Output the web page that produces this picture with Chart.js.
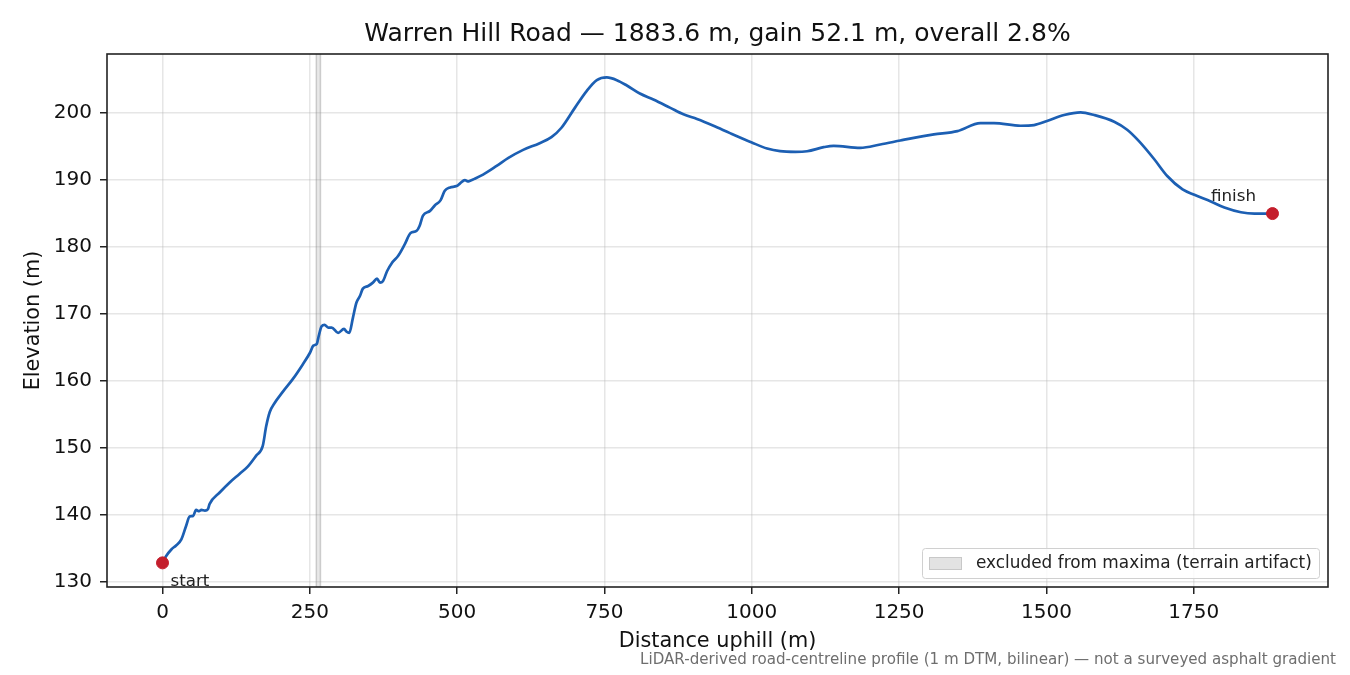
<!DOCTYPE html>
<html>
<head>
<meta charset="utf-8">
<script src="https://cdn.jsdelivr.net/npm/chart.js@4.4.1/dist/chart.umd.min.js"></script>
<style>
  html, body { margin: 0; padding: 0; background: #fff; }
  #wrap { width: 1350px; height: 675px; }
</style>
</head>
<body>
<div id="wrap"><canvas id="profile" width="1350" height="675"></canvas></div>
<script>
// distance along road (m) and elevation (m)
const distance = [
    0, 6, 15, 23, 32, 40, 46, 52, 57, 62, 66, 72, 77, 80, 97, 114, 131, 145, 159, 170,
    176, 182, 190, 204, 221, 238, 250, 256, 262, 265, 270, 275, 281, 287, 298, 308, 312, 317, 323, 329,
    335, 340, 349, 357, 364, 369, 374, 381, 389, 400, 411, 421, 431, 436, 442, 454, 462, 472, 479, 488,
    499, 505, 513, 518, 522, 530, 544, 567, 587, 612, 640, 660, 677, 700, 720, 737, 754, 771, 788, 810,
    833, 861, 884, 907, 935, 963, 1000, 1026, 1048, 1074, 1094, 1122, 1139, 1184, 1218, 1252, 1275, 1309, 1349, 1388,
    1411, 1456, 1479, 1501, 1530, 1558, 1581, 1615, 1637, 1657, 1683, 1705, 1731, 1751, 1779, 1802, 1830, 1853, 1883.6
];
const elevation = [
    132.8, 133.8, 134.8, 135.4, 136.3, 138.3, 139.7, 139.8, 140.7, 140.5, 140.7, 140.6, 140.8, 141.6, 143.3, 144.8, 146.1, 147.2, 148.8, 150.2,
    153.2, 155.3, 156.6, 158.3, 160.2, 162.4, 164.1, 165.2, 165.5, 166.6, 168.1, 168.3, 167.9, 167.9, 167.1, 167.7, 167.3, 167.1, 169.3, 171.6,
    172.6, 173.7, 174.1, 174.6, 175.2, 174.6, 174.8, 176.3, 177.5, 178.6, 180.3, 182.0, 182.3, 183.0, 184.6, 185.3, 186.1, 186.9, 188.3, 188.8,
    189.0, 189.4, 189.9, 189.7, 189.8, 190.1, 190.7, 192.0, 193.2, 194.4, 195.4, 196.3, 197.7, 200.7, 203.2, 204.8, 205.2, 204.8, 204.0, 202.8,
    201.9, 200.7, 199.7, 199.0, 198.0, 196.9, 195.5, 194.6, 194.2, 194.1, 194.2, 194.8, 195.0, 194.7, 195.2, 195.8, 196.2, 196.7, 197.2, 198.4,
    198.4, 198.0, 198.1, 198.7, 199.6, 200.0, 199.6, 198.6, 197.4, 195.7, 193.0, 190.5, 188.5, 187.7, 186.7, 185.8, 185.1, 184.9, 184.9
];
const endpoints = [
    { x: 0, y: 132.8, label: 'start' },
    { x: 1883.6, y: 184.9, label: 'finish' }
];
const excludedSpan = [261, 268];
const xTicks = [0, 250, 500, 750, 1000, 1250, 1500, 1750];
const yTicks = [130, 140, 150, 160, 170, 180, 190, 200];
const xRange = [-94.2, 1977.8];
const yRange = [129.2, 208.7];

const titleText = 'Warren Hill Road \u2014 1883.6 m, gain 52.1 m, overall 2.8%';
const legendText = 'excluded from maxima (terrain artifact)';
const footnote = 'LiDAR-derived road-centreline profile (1 m DTM, bilinear) \u2014 not a surveyed asphalt gradient';

const FONT = "'DejaVu Sans', sans-serif";
const LINE_BLUE = '#1c5fb3';
const POINT_RED = '#c41e2c';
const GRID = 'rgba(176,176,176,0.32)';

// shaded span behind the line, frame, title, legend, labels and footnote
const decorations = {
    id: 'decorations',
    beforeDatasetsDraw(chart) {
        const { ctx, chartArea, scales } = chart;
        const x0 = scales.x.getPixelForValue(excludedSpan[0]);
        const x1 = scales.x.getPixelForValue(excludedSpan[1]);
        ctx.save();
        ctx.fillStyle = 'rgba(140,140,140,0.2)';
        ctx.fillRect(x0, chartArea.top, x1 - x0, chartArea.bottom - chartArea.top);
        ctx.strokeStyle = 'rgba(128,128,128,0.35)';
        ctx.lineWidth = 1.5;
        ctx.beginPath();
        ctx.moveTo(x0, chartArea.top); ctx.lineTo(x0, chartArea.bottom);
        ctx.moveTo(x1, chartArea.top); ctx.lineTo(x1, chartArea.bottom);
        ctx.stroke();
        ctx.restore();
    },
    afterDraw(chart) {
        const { ctx, chartArea, scales } = chart;
        ctx.save();

        // frame
        ctx.strokeStyle = '#222';
        ctx.lineWidth = 1.6;
        ctx.strokeRect(chartArea.left, chartArea.top, chartArea.right - chartArea.left, chartArea.bottom - chartArea.top);

        // title, centred over the plot area
        ctx.fillStyle = '#111';
        ctx.font = '25px ' + FONT;
        ctx.textAlign = 'center';
        ctx.textBaseline = 'middle';
        ctx.fillText(titleText, (chartArea.left + chartArea.right) / 2, 34.5);

        // start / finish labels
        ctx.fillStyle = '#222';
        ctx.font = '16.7px ' + FONT;
        const s = endpoints[0], f = endpoints[1];
        ctx.textAlign = 'left';
        ctx.fillText(s.label, scales.x.getPixelForValue(s.x) + 8, scales.y.getPixelForValue(s.y) + 19);
        ctx.textAlign = 'center';
        ctx.fillText(f.label, scales.x.getPixelForValue(f.x) - 39, scales.y.getPixelForValue(f.y) - 17);

        // legend box, lower right
        const lw = 397, lh = 30;
        const lx = chartArea.right - 9 - lw, ly = chartArea.bottom - 9 - lh;
        ctx.fillStyle = 'rgba(255,255,255,0.85)';
        ctx.strokeStyle = '#d0d0d0';
        ctx.lineWidth = 1;
        ctx.beginPath();
        ctx.roundRect(lx + 0.5, ly + 0.5, lw, lh, 3);
        ctx.fill();
        ctx.stroke();
        ctx.fillStyle = '#e3e3e3';
        ctx.strokeStyle = '#c8c8c8';
        ctx.fillRect(lx + 7, ly + 9, 32, 12);
        ctx.strokeRect(lx + 7.5, ly + 9.5, 32, 12);
        ctx.fillStyle = '#222';
        ctx.textAlign = 'left';
        ctx.font = '16.9px ' + FONT;
        ctx.fillText(legendText, lx + 54, ly + lh / 2 + 1);

        // footnote
        ctx.fillStyle = '#6e6e6e';
        ctx.font = '15.1px ' + FONT;
        ctx.textAlign = 'right';
        ctx.fillText(footnote, 1336, 660);
        ctx.restore();
    }
};

const chart = new Chart(document.getElementById('profile'), {
    type: 'scatter',
    data: {
        datasets: [
            {
                data: distance.map((d, i) => ({ x: d, y: elevation[i] })),
                showLine: true,
                borderColor: LINE_BLUE,
                borderWidth: 2.7,
                pointRadius: 0,
                cubicInterpolationMode: 'monotone',
                order: 2
            },
            {
                data: endpoints.map(p => ({ x: p.x, y: p.y })),
                backgroundColor: POINT_RED,
                borderColor: POINT_RED,
                pointRadius: 6,
                order: 1
            }
        ]
    },
    options: {
        responsive: false,
        devicePixelRatio: 1,
        animation: false,
        layout: { padding: { left: 0, right: 22, top: 54, bottom: 0 } },
        plugins: {
            legend: { display: false },
            tooltip: { enabled: false },
            title: { display: false }
        },
        scales: {
            x: {
                type: 'linear',
                min: xRange[0],
                max: xRange[1],
                afterBuildTicks: axis => { axis.ticks = xTicks.map(v => ({ value: v })); },
                afterFit: axis => { axis.height = 88; },
                ticks: {
                    color: '#111',
                    font: { family: FONT, size: 20 },
                    padding: 7,
                    maxRotation: 0,
                    callback: v => String(v)
                },
                grid: { color: GRID, tickColor: '#222', tickLength: 7, lineWidth: 1.5, tickWidth: 1.5 },
                border: { display: false },
                title: {
                    display: true,
                    text: 'Distance uphill (m)',
                    color: '#111',
                    font: { family: FONT, size: 20.8 },
                    padding: { top: 0, bottom: 21 }
                }
            },
            y: {
                type: 'linear',
                min: yRange[0],
                max: yRange[1],
                afterBuildTicks: axis => { axis.ticks = yTicks.map(v => ({ value: v })); },
                afterFit: axis => { axis.width = 107; },
                ticks: {
                    color: '#111',
                    font: { family: FONT, size: 20 },
                    padding: 8,
                    callback: v => String(v)
                },
                grid: { color: GRID, tickColor: '#222', tickLength: 7, lineWidth: 1.5, tickWidth: 1.5 },
                border: { display: false },
                title: {
                    display: true,
                    text: 'Elevation (m)',
                    color: '#111',
                    font: { family: FONT, size: 20.8 },
                    padding: { top: 21, bottom: 0 }
                }
            }
        }
    },
    plugins: [decorations]
});
</script>
</body>
</html>
